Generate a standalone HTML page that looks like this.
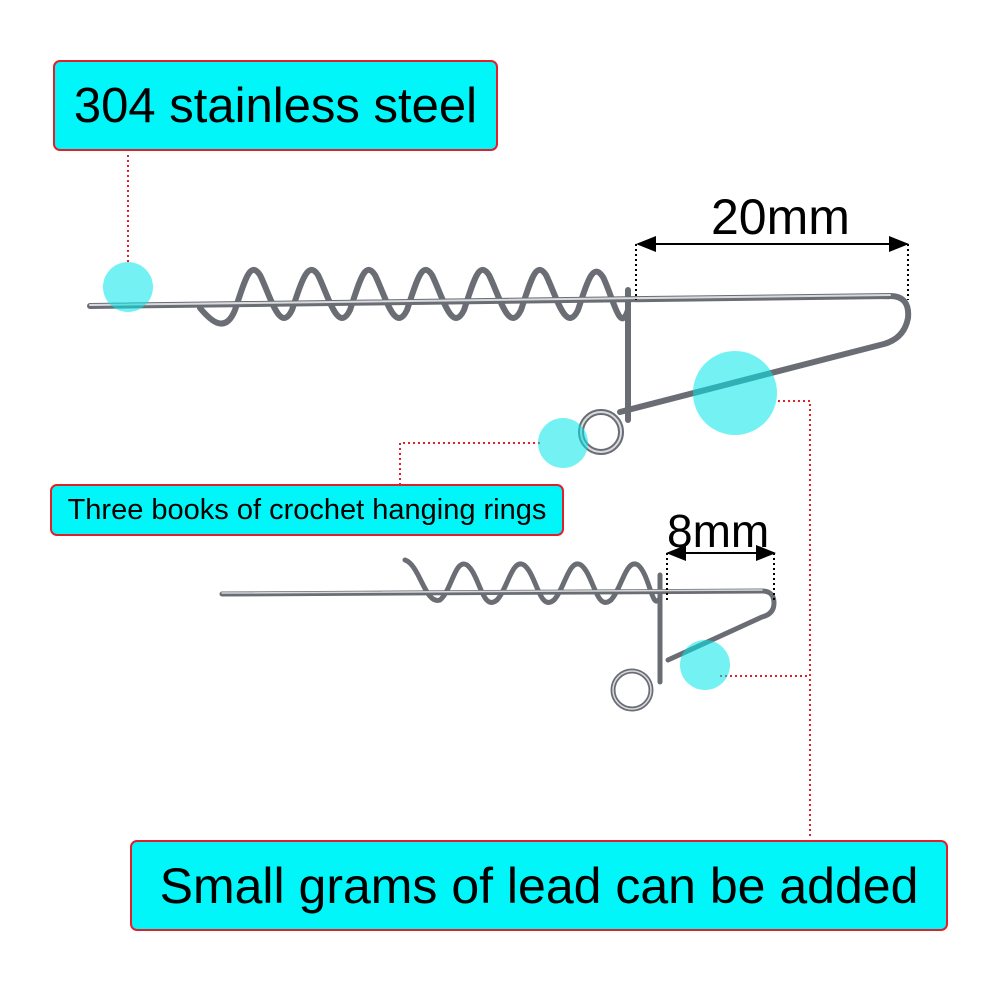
<!DOCTYPE html>
<html><head><meta charset="utf-8"><style>
html,body{margin:0;padding:0;background:#fff;}
.box{position:absolute;background:#00f6f8;border:2.5px solid #e0202a;border-radius:7px;box-sizing:border-box;font-family:"Liberation Sans",sans-serif;color:#000;display:flex;align-items:center;justify-content:center;white-space:nowrap;}
.t{position:absolute;font-family:"Liberation Sans",sans-serif;color:#000;white-space:nowrap;}
</style></head><body>
<div style="position:relative;width:1000px;height:1000px;overflow:hidden;">
<svg width="1000" height="1000" style="position:absolute;left:0;top:0">
<defs>
<marker id="ar" markerWidth="10" markerHeight="8" refX="9" refY="4" orient="auto"><path d="M0,0 L10,4 L0,8 z" fill="#000"/></marker>
<marker id="al" markerWidth="10" markerHeight="8" refX="1" refY="4" orient="auto"><path d="M10,0 L0,4 L10,8 z" fill="#000"/></marker>
</defs>
<g fill="none" stroke-linecap="round">
<g stroke="#6a6e74" stroke-width="6">
<path d="M90,306 L890,296 Q910,296 908,318 Q904,340 880,345 L620,412"/>
<path d="M628,290 L628,420"/>
<circle cx="601" cy="432" r="20"/>
<path d="M200,308 C210,320 225,335 235,310 C245,280 250,260 260,275 C270,295 280,335 292,310 C302,280 308,260 318,275 C328,295 338,335 350,310 C360,280 365,260 375,275 C385,295 395,335 407,310 C417,280 422,260 432,275 C442,295 452,335 464,310 C474,280 479,260 489,275 C499,295 509,335 521,310 C531,280 536,260 546,275 C556,295 566,335 578,310 C588,280 593,262 603,277 C613,297 620,335 628,310"/>
</g>
<g stroke="#d8dadd" stroke-width="2">
<path d="M90,305 L890,295"/>
<circle cx="601" cy="432" r="20"/>
</g>
<g stroke="#6a6e74" stroke-width="5">
<path d="M222,594 L762,591 Q774,591 774,603 Q774,614 762,617 L668,660"/>
<path d="M660,575 L660,682"/>
<circle cx="632" cy="690" r="19"/>
<path d="M405,560 C420,565 425,605 440,600 C452,590 455,558 467,565 C480,575 482,612 497,600 C508,588 512,558 524,565 C537,575 539,612 554,600 C565,588 569,558 581,565 C594,575 596,612 611,600 C622,588 626,558 638,565 C650,575 652,612 660,598"/>
</g>
<g stroke="#d8dadd" stroke-width="1.5"><path d="M222,593 L762,590"/><circle cx="632" cy="690" r="19"/></g>
</g>
<line x1="638" y1="244" x2="907" y2="244" stroke="#000" stroke-width="2" marker-start="url(#al)" marker-end="url(#ar)"/>
<line x1="636" y1="244" x2="636" y2="300" stroke="#000" stroke-width="2" stroke-dasharray="2,3"/>
<line x1="908" y1="244" x2="908" y2="300" stroke="#000" stroke-width="2" stroke-dasharray="2,3"/>
<line x1="668" y1="553" x2="774" y2="553" stroke="#000" stroke-width="2" marker-start="url(#al)" marker-end="url(#ar)"/>
<line x1="667" y1="553" x2="667" y2="600" stroke="#000" stroke-width="2" stroke-dasharray="2,3"/>
<line x1="774" y1="553" x2="774" y2="600" stroke="#000" stroke-width="2" stroke-dasharray="2,3"/>
<g stroke="#e0202a" stroke-width="2" stroke-dasharray="2,3" fill="none">
<path d="M128,155 L128,265"/>
<path d="M540,443 L400,443 L400,484"/>
<path d="M778,401 L810,401 L810,838"/>
<path d="M720,676 L810,676"/>
</g>
<g fill="#00e5ea" fill-opacity="0.55">
<circle cx="128" cy="287" r="25"/>
<circle cx="735" cy="393" r="42"/>
<circle cx="563" cy="443" r="25"/>
<circle cx="705" cy="665" r="25"/>
</g>
</svg>
<div class="box" style="left:53px;top:60px;width:445px;height:91px;font-size:49px;">304 stainless steel</div>
<div class="box" style="left:50px;top:484px;width:514px;height:52px;font-size:29px;">Three books of crochet hanging rings</div>
<div class="box" style="left:130px;top:840px;width:818px;height:91px;font-size:50px;">Small grams of lead can be added</div>
<div class="t" style="left:711px;top:188px;font-size:50px;">20mm</div>
<div class="t" style="left:667px;top:504px;font-size:46px;">8mm</div>
</div>
</body></html>
